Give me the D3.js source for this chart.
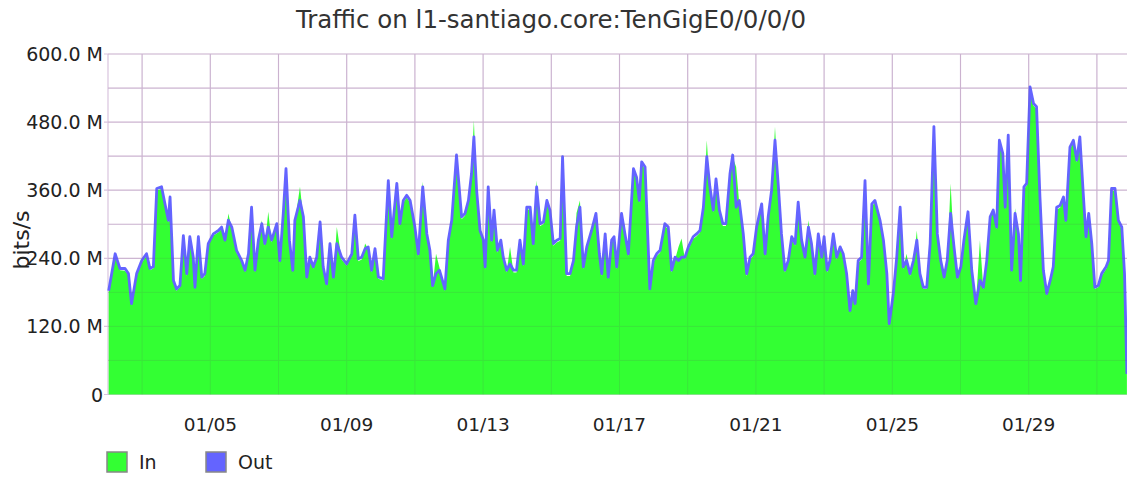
<!DOCTYPE html>
<html lang="en">
<head>
<meta charset="UTF-8">
<title>Traffic on l1-santiago.core:TenGigE0/0/0/0</title>
<script src="https://cdn.jsdelivr.net/npm/d3@7"></script>
<style>
    body {
        margin: 0;
        background: #fff;
        font-family: "DejaVu Sans", Verdana, sans-serif;
    }
    .grid line { stroke: #d9c4de; stroke-width: 1.2px; }
    .tick-label { fill: #222; font-size: 19px; }
</style>
</head>
<body>
<svg id="chart" width="1127" height="479"></svg>
<script>
// sample times, in fractional day of January
const days = [
    2.02, 2.21, 2.35, 2.50, 2.60, 2.69, 2.84, 2.99, 3.13, 3.23, 3.33, 3.43, 3.57, 3.67, 3.77, 3.82, 3.92,
    4.01, 4.11, 4.21, 4.31, 4.40, 4.50, 4.55, 4.65, 4.75, 4.84, 4.94, 5.09, 5.24, 5.33, 5.43, 5.53, 5.63,
    5.77, 5.92, 6.02, 6.12, 6.21, 6.31, 6.41, 6.51, 6.60, 6.70, 6.80, 6.95, 7.04, 7.14, 7.22, 7.32, 7.42,
    7.48, 7.63, 7.73, 7.83, 7.92, 8.02, 8.12, 8.22, 8.31, 8.41, 8.51, 8.61, 8.71, 8.85, 9.00, 9.15, 9.24,
    9.34, 9.44, 9.54, 9.63, 9.73, 9.83, 9.93, 10.07, 10.22, 10.32, 10.47, 10.56, 10.66, 10.76, 10.86,
    11.00, 11.10, 11.23, 11.35, 11.44, 11.52, 11.62, 11.72, 11.78, 11.88, 11.98, 12.08, 12.22, 12.37,
    12.47, 12.57, 12.66, 12.73, 12.81, 12.91, 13.01, 13.06, 13.15, 13.25, 13.32, 13.42, 13.52, 13.59,
    13.69, 13.79, 13.89, 13.98, 14.08, 14.18, 14.28, 14.38, 14.47, 14.57, 14.67, 14.77, 14.87, 14.96,
    15.06, 15.16, 15.26, 15.33, 15.45, 15.55, 15.65, 15.74, 15.84, 15.94, 16.04, 16.18, 16.31, 16.41,
    16.48, 16.58, 16.67, 16.77, 16.84, 16.92, 17.06, 17.16, 17.26, 17.41, 17.50, 17.58, 17.65, 17.75,
    17.89, 17.99, 18.09, 18.19, 18.33, 18.43, 18.53, 18.63, 18.73, 18.82, 18.92, 19.02, 19.16, 19.26,
    19.36, 19.46, 19.56, 19.65, 19.75, 19.83, 19.93, 20.03, 20.12, 20.24, 20.32, 20.42, 20.51, 20.63,
    20.73, 20.83, 20.92, 21.02, 21.17, 21.27, 21.36, 21.46, 21.56, 21.66, 21.75, 21.85, 21.95, 22.05,
    22.15, 22.24, 22.34, 22.44, 22.54, 22.63, 22.73, 22.83, 22.93, 23.00, 23.09, 23.17, 23.27, 23.37,
    23.47, 23.56, 23.66, 23.76, 23.84, 23.91, 24.00, 24.10, 24.20, 24.30, 24.40, 24.49, 24.64, 24.74,
    24.84, 24.91, 25.03, 25.13, 25.23, 25.32, 25.42, 25.52, 25.62, 25.72, 25.81, 25.91, 26.01, 26.11,
    26.22, 26.32, 26.42, 26.52, 26.61, 26.71, 26.81, 26.91, 27.01, 27.10, 27.22, 27.33, 27.45, 27.57,
    27.67, 27.77, 27.87, 27.96, 28.06, 28.14, 28.24, 28.31, 28.40, 28.50, 28.60, 28.70, 28.76, 28.86,
    28.94, 29.04, 29.14, 29.23, 29.33, 29.43, 29.53, 29.63, 29.72, 29.82, 29.92, 30.02, 30.09, 30.21,
    30.31, 30.41, 30.50, 30.60, 30.68, 30.76, 30.85, 30.94, 31.04, 31.14, 31.27, 31.34, 31.43, 31.53,
    31.63, 31.73, 31.81, 31.88
];

// outbound traffic, Mbit/s
const outVals = [
    183, 248, 222, 222, 213, 160, 213, 236, 248, 222, 225, 363, 366, 336, 307, 348, 201,
    186, 192, 280, 213, 278, 242, 189, 278, 207, 213, 266, 283, 289, 295, 272, 307, 295,
    254, 236, 219, 248, 330, 219, 272, 301, 266, 295, 272, 301, 236, 319, 398, 272, 219,
    307, 342, 313, 207, 242, 225, 242, 304, 225, 195, 266, 207, 266, 242, 230, 248, 316,
    239, 242, 257, 260, 219, 257, 207, 204, 377, 278, 372, 301, 342, 351, 342,
    295, 248, 366, 283, 254, 192, 213, 219, 207, 186, 272, 307, 422, 313,
    319, 342, 389, 454, 360, 289, 272, 225, 366, 272, 325, 254, 272, 242,
    219, 230, 219, 219, 272, 230, 330, 330, 266, 366, 301, 304, 342, 325,
    266, 272, 275, 419, 213, 213, 236, 295, 330, 225, 260, 289, 319, 248,
    213, 283, 207, 272, 278, 225, 319, 283, 248, 398, 383, 342, 410, 401,
    186, 236, 248, 254, 301, 295, 219, 242, 236, 242, 242, 260, 278, 283,
    289, 330, 419, 366, 325, 380, 325, 301, 301, 389, 422, 330, 342, 283,
    213, 242, 248, 295, 336, 248, 313, 360, 448, 366, 283, 219, 236, 278,
    266, 339, 272, 242, 295, 266, 213, 283, 242, 278, 219, 236, 283, 242,
    260, 248, 213, 148, 183, 160, 236, 242, 377, 195, 336, 342, 307, 272,
    213, 125, 178, 242, 330, 225, 236, 213, 236, 272, 213, 189, 189, 266,
    472, 283, 236, 207, 236, 319, 260, 207, 225, 272, 322, 219, 160, 201,
    189, 236, 313, 325, 295, 448, 425, 330, 457, 219, 319, 283, 201, 366,
    372, 542, 513, 507, 348, 219, 178, 201, 225, 330, 333, 348, 307, 436,
    448, 413, 454, 354, 278, 319, 266, 189, 192, 213, 225, 236, 363, 363,
    307, 295, 213, 36
];

// inbound traffic, Mbit/s
const inVals = [
    180, 244, 219, 218, 210, 157, 209, 232, 245, 219, 222, 360, 362, 333, 303, 344, 198,
    183, 189, 277, 209, 275, 238, 186, 282, 204, 209, 262, 280, 286, 292, 270, 319, 292,
    250, 233, 216, 244, 326, 215, 268, 307, 262, 322, 268, 297, 232, 315, 394, 268, 216,
    303, 366, 309, 204, 238, 222, 238, 300, 222, 192, 262, 204, 295, 238, 227, 244, 312,
    235, 238, 266, 256, 215, 253, 204, 201, 373, 274, 368, 297, 338, 347, 338,
    291, 244, 375, 279, 250, 189, 248, 224, 204, 183, 268, 303, 418, 309,
    315, 338, 400, 483, 356, 285, 268, 221, 362, 268, 321, 250, 272, 238,
    215, 260, 215, 215, 268, 226, 326, 326, 262, 377, 297, 300, 338, 321,
    262, 268, 271, 415, 209, 209, 232, 320, 342, 221, 256, 285, 315, 244,
    209, 279, 204, 268, 274, 221, 315, 279, 244, 394, 379, 338, 406, 397,
    183, 232, 244, 250, 297, 291, 215, 238, 260, 275, 238, 256, 274, 279,
    285, 326, 448, 362, 321, 376, 321, 297, 297, 385, 418, 401, 338, 279,
    209, 238, 244, 291, 332, 244, 309, 356, 472, 362, 279, 215, 232, 274,
    262, 335, 268, 238, 307, 262, 209, 279, 238, 274, 215, 232, 279, 238,
    256, 244, 209, 145, 180, 157, 232, 238, 373, 192, 332, 338, 303, 268,
    209, 122, 175, 238, 326, 221, 248, 209, 232, 289, 209, 186, 186, 262,
    468, 279, 232, 204, 232, 372, 256, 204, 221, 268, 318, 215, 157, 272,
    186, 232, 309, 321, 291, 444, 421, 326, 453, 215, 328, 279, 198, 362,
    368, 538, 509, 503, 344, 215, 175, 198, 221, 326, 329, 344, 303, 432,
    444, 409, 450, 350, 274, 315, 262, 186, 189, 209, 221, 232, 359, 359,
    303, 291, 209, 34
];

const yTicks = [0, 120, 240, 360, 480, 600];
const yTickLabels = ['0', '120.0 M', '240.0 M', '360.0 M', '480.0 M', '600.0 M'];
const seriesNames = ['In', 'Out'];
const seriesColors = ['#33ff33', '#6464ff'];

const toDate = d => new Date(Date.UTC(2024, 0, 1) + (d - 1) * 864e5);
const data = days.map((d, i) => ({ t: toDate(d), out: outVals[i], inn: inVals[i] }));

const svg = d3.select('#chart');
const plot = { left: 108, top: 54, bottom: 394.5, right: 1131 };

const x = d3.scaleUtc().domain([toDate(2), toDate(32)]).range([plot.left, plot.right]);
const y = d3.scaleLinear().domain([0, 600]).range([plot.bottom, plot.top]);
const gridDays = x.ticks(d3.utcDay.every(2)).filter(t => t > x.domain()[0]);

svg.append('rect').attr('width', 1127).attr('height', 479).attr('fill', '#fff');

// title
svg.append('text')
    .attr('x', 551).attr('y', 28)
    .attr('text-anchor', 'middle')
    .attr('font-size', 24.5)
    .attr('fill', '#333')
    .text('Traffic on l1-santiago.core:TenGigE0/0/0/0');

// grid
const grid = svg.append('g').attr('class', 'grid');
grid.selectAll('.hg').data(d3.range(0, 601, 60)).enter().append('line')
    .attr('x1', d => yTicks.includes(d) ? plot.left - 4 : plot.left).attr('x2', plot.right)
    .attr('y1', d => y(d)).attr('y2', d => y(d));
grid.selectAll('.vg').data(gridDays).enter().append('line')
    .attr('x1', d => x(d)).attr('x2', d => x(d))
    .attr('y1', plot.top).attr('y2', plot.bottom);
grid.append('line')
    .attr('x1', plot.left).attr('x2', plot.left)
    .attr('y1', plot.top).attr('y2', plot.bottom);

// In area, Out line
const area = d3.area()
    .x(d => x(d.t))
    .y0(y(0))
    .y1(d => y(d.inn));
svg.append('path').datum(data)
    .attr('d', area)
    .attr('fill', seriesColors[0]);

const line = d3.line()
    .x(d => x(d.t))
    .y(d => y(d.out));
svg.append('path').datum(data)
    .attr('d', line)
    .attr('fill', 'none')
    .attr('stroke', seriesColors[1])
    .attr('stroke-width', 2.8)
    .attr('stroke-linejoin', 'round');

// faint grid over the fill
const overGrid = svg.append('g').attr('opacity', 0.12);
overGrid.selectAll('line').data(gridDays).enter().append('line')
    .attr('x1', d => x(d)).attr('x2', d => x(d))
    .attr('y1', plot.top).attr('y2', plot.bottom)
    .attr('stroke', '#6a3a6a');
overGrid.selectAll('.h').data(d3.range(60, 601, 60)).enter().append('line')
    .attr('x1', plot.left).attr('x2', plot.right)
    .attr('y1', d => y(d)).attr('y2', d => y(d))
    .attr('stroke', '#6a3a6a');

// y labels
svg.append('g').selectAll('text').data(yTicks).enter().append('text')
    .attr('class', 'tick-label')
    .attr('x', 103)
    .attr('y', d => y(d) + 7)
    .attr('text-anchor', 'end')
    .text((d, i) => yTickLabels[i]);

// x labels
svg.append('g').selectAll('text')
    .data(x.ticks(d3.utcDay.every(4)).filter(t => t > x.domain()[0] && t < x.domain()[1]))
    .enter().append('text')
    .attr('class', 'tick-label')
    .attr('font-size', 18.5)
    .style('font-size', '18.5px')
    .attr('x', d => x(d))
    .attr('y', 431)
    .attr('text-anchor', 'middle')
    .text(d3.utcFormat('%m/%d'));

// axis title
svg.append('text')
    .attr('transform', 'translate(29,240) rotate(-90)')
    .attr('text-anchor', 'middle')
    .attr('font-size', 22)
    .attr('fill', '#222')
    .text('bits/s');

// legend
const legend = svg.append('g');
seriesNames.forEach((name, i) => {
    const lx = 107 + i * 99;
    legend.append('rect')
        .attr('x', lx).attr('y', 452).attr('width', 20).attr('height', 20)
        .attr('fill', seriesColors[i])
        .attr('stroke', '#888').attr('stroke-width', 1.5);
    legend.append('text')
        .attr('class', 'tick-label')
        .attr('x', lx + 32).attr('y', 469)
        .text(name);
});
</script>
</body>
</html>
